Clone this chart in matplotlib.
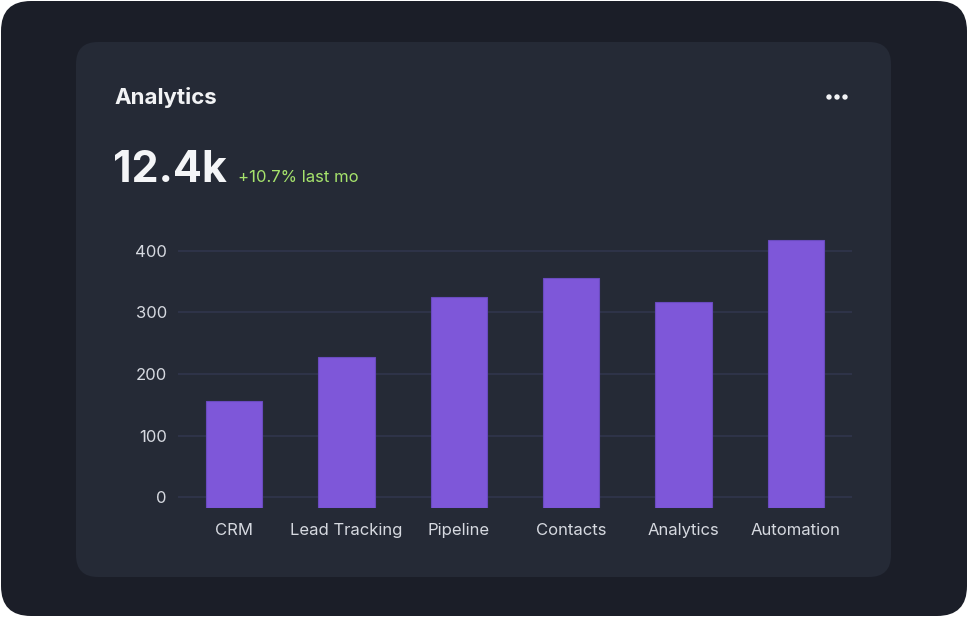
import matplotlib.pyplot as plt
from matplotlib.patches import FancyBboxPatch, Circle

plt.rcParams['font.family'] = ['Inter', 'DejaVu Sans']

# data
categories = ['CRM', 'Lead Tracking', 'Pipeline', 'Contacts', 'Analytics', 'Automation']
values = [157, 228, 325, 356, 316, 417]
yticks = [0, 100, 200, 300, 400]

W, H = 968, 617
fig = plt.figure(figsize=(W / 100, H / 100), dpi=100)
fig.patch.set_facecolor('white')

# background layer in pixel coordinates
bg = fig.add_axes([0, 0, 1, 1])
bg.set_xlim(0, W)
bg.set_ylim(H, 0)
bg.axis('off')
bg.add_patch(FancyBboxPatch((1 + 30, 1 + 30), W - 2 - 60, H - 2 - 60,
                            boxstyle='round,pad=30', fc='#1b1e28', ec='none'))
bg.add_patch(FancyBboxPatch((76 + 22, 42 + 22), 815 - 44, 535 - 44,
                            boxstyle='round,pad=22', fc='#252a36', ec='none'))
bg.text(114, 97.5, 'Analytics', color='#f2f3f5', fontsize=16,
        fontweight='bold', va='center', ha='left')
bg.text(113, 182, '12.4k', color='#f4f5f7', fontsize=31,
        fontweight='bold', va='baseline', ha='left')
bg.text(238, 182, '+10.7% last mo', color='#a6e36c', fontsize=12,
        va='baseline', ha='left')
for cx in (829, 837, 845):
    bg.add_patch(Circle((cx, 97), 2.7, fc='#f2f3f5', ec='none'))

# chart axes; bars start at the bottom of the scale, below zero
ymin, ymax = -17.8, 430
x0, x1 = 178, 852
ybot, ytop = 508.3, 232.2
ax = fig.add_axes([x0 / W, 1 - ybot / H, (x1 - x0) / W, (ybot - ytop) / H])
ax.patch.set_alpha(0)
ax.bar(range(len(categories)), [v - ymin for v in values], bottom=ymin,
       width=0.5, color='#7e57d9', edgecolor='#6a4bbf', linewidth=0.8, zorder=3)
ax.set_xlim(-0.5, len(categories) - 0.5)
ax.set_ylim(ymin, ymax)
ax.set_yticks(yticks)
ax.set_xticks(range(len(categories)))
ax.set_xticklabels(categories)
for v in yticks:
    ax.axhline(v, color='#30344a', linewidth=1.3, zorder=1)
for s in ax.spines.values():
    s.set_visible(False)
ax.tick_params(axis='both', length=0, colors='#d6d9e0', labelsize=12)
ax.tick_params(axis='y', pad=8)
ax.tick_params(axis='x', pad=10.5)

fig.savefig('out.png', dpi=100, facecolor=fig.get_facecolor())
